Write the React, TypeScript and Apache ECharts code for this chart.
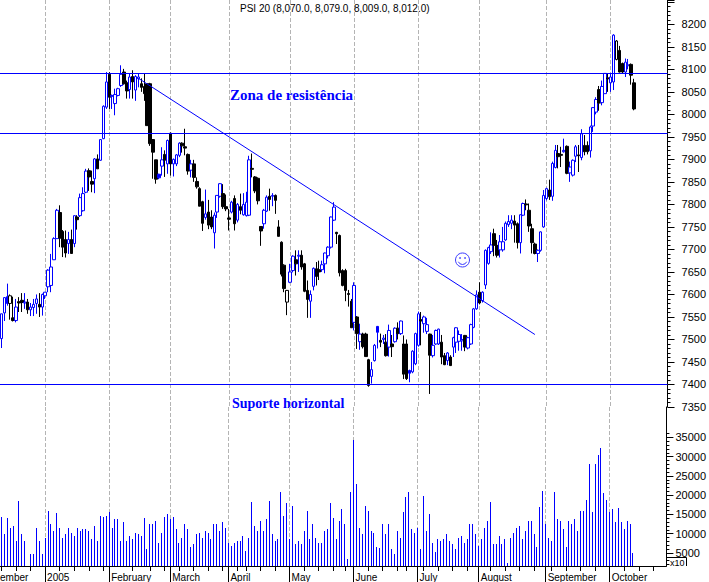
import React, { useEffect, useRef } from "react";
import * as echarts from "echarts";

const TITLE = "PSI 20 (8,070.0, 8,079.0, 8,009.0, 8,012.0)";
const SLOTS = 229;
const monthTicks = [15, 37, 58, 78, 99, 121, 143, 164, 187, 209];
const monthLabels: Record<number, string> = { 15: "2005", 37: "February", 58: "March", 78: "April", 99: "May", 121: "June", 143: "July", 164: "August", 187: "September", 209: "October" };
const weekTicks = [0,5,10,20,25,30,35,45,51,56,61,66,71,76,81,84,89,94,104,109,114,118,126,131,136,139,145,150,155,160,168,173,178,183,189,194,199,204,214,219,224];
const levels = [8090.75, 7957.5, 7400];
const trend = [[47, 8080], [183, 7511]];
const volTicks = [5000,10000,15000,20000,25000,30000,35000];
const volMinor = [2000,3000,4000,6000,7000,8000,9000,11000,12000,13000,14000,16000,17000,18000,19000,21000,22000,23000,24000,26000,27000,28000,29000,31000,32000,33000,34000,36000];
const solidBlue = [2, 54, 129, 140];
const hollowBlack = [3, 98, 211];

// open, close, low, high
const candles = [
[7502,7557,7481,7557],[7559,7593,7541,7594],[7595,7580,7575,7624],[7580,7597,7544,7600],[7548,7542,7540,7595],[7542,7572,7538,7590],[7584,7581,7561,7594],[7587,7582,7561,7603],[7581,7583,7568,7603],[7583,7566,7557,7590],
[7566,7572,7552,7581],[7571,7578,7552,7590],[7580,7590,7557,7600],[7578,7572,7550,7603],[7572,7600,7553,7602],[7597,7605,7590,7605],[7617,7654,7605,7656],[7620,7661,7605,7690],[7677,7724,7677,7727],[7724,7787,7724,7790],
[7782,7725,7705,7798],[7740,7705,7683,7743],[7722,7692,7682,7742],[7713,7722,7690,7739],[7722,7691,7691,7744],[7713,7775,7705,7775],[7772,7766,7744,7776],[7775,7815,7772,7824],[7786,7824,7784,7838],[7827,7874,7825,7879],
[7875,7861,7830,7880],[7851,7845,7827,7875],[7857,7901,7825,7903],[7901,7879,7879,7911],[7898,7944,7897,7945],[7946,8018,7945,8020],[8016,8072,8012,8094],[8089,8038,8012,8094],[8040,8042,8012,8044],[8024,8044,7998,8057],
[8042,8057,8040,8059],[8064,8089,8061,8109],[8094,8068,8066,8101],[8070,8052,8035,8075],[8055,8083,8035,8090],[8084,8072,8035,8098],[8054,8084,8030,8087],[8079,8083,8060,8090],[8068,8060,8050,8080],[8062,8046,8030,8091],
[8068,7975,7975,8068],[8068,7935,7930,8070],[7944,7916,7857,7945],[7899,7856,7846,7899],[7867,7859,7856,7868],[7885,7899,7864,7927],[7911,7898,7861,7920],[7890,7942,7868,7944],[7958,7890,7864,7960],[7890,7900,7862,7902],
[7890,7910,7885,7912],[7909,7936,7905,7938],[7936,7930,7915,7938],[7928,7925,7909,7968],[7911,7874,7866,7913],[7876,7890,7860,7899],[7890,7860,7850,7899],[7851,7839,7835,7860],[7835,7796,7796,7838],[7806,7758,7741,7808],
[7771,7779,7766,7833],[7783,7754,7745,7810],[7772,7750,7745,7787],[7737,7776,7702,7782],[7783,7820,7770,7820],[7818,7846,7815,7847],[7824,7795,7790,7845],[7795,7790,7785,7822],[7770,7767,7742,7790],[7783,7805,7780,7808],
[7813,7757,7742,7820],[7765,7800,7760,7803],[7795,7787,7778,7824],[7777,7800,7775,7825],[7775,7805,7773,7828],[7776,7899,7774,7908],[7880,7878,7860,7913],[7861,7830,7825,7863],[7858,7808,7800,7860],[7751,7741,7708,7751],
[7757,7787,7746,7790],[7785,7816,7783,7820],[7818,7811,7786,7835],[7818,7820,7796,7825],[7820,7809,7779,7822],[7750,7729,7729,7765],[7716,7645,7640,7718],[7665,7613,7605,7667],[7583,7609,7554,7610],[7627,7650,7625,7668],
[7653,7685,7649,7687],[7677,7668,7642,7698],[7685,7687,7650,7698],[7687,7661,7655,7698],[7668,7607,7605,7670],[7609,7589,7548,7631],[7585,7600,7548,7609],[7618,7658,7609,7660],[7657,7640,7620,7672],[7655,7650,7632,7675],
[7655,7666,7650,7675],[7668,7692,7647,7693],[7686,7705,7680,7707],[7705,7772,7702,7773],[7765,7794,7763,7805],[7738,7735,7712,7739],[7731,7648,7640,7733],[7653,7620,7618,7656],[7653,7609,7585,7657],[7602,7600,7573,7610],
[7585,7526,7526,7590],[7538,7620,7520,7627],[7550,7513,7479,7552],[7495,7512,7477,7535],[7512,7484,7480,7515],[7512,7462,7462,7515],[7455,7398,7395,7457],[7418,7433,7402,7450],[7453,7487,7451,7490],[7529,7516,7480,7530],
[7498,7494,7483,7513],[7500,7503,7490,7510],[7494,7464,7462,7512],[7483,7520,7462,7533],[7490,7484,7461,7510],[7495,7525,7493,7527],[7525,7513,7500,7538],[7513,7541,7510,7542],[7490,7423,7412,7509],[7490,7413,7410,7500],
[7431,7425,7405,7433],[7428,7474,7425,7476],[7446,7513,7443,7515],[7487,7557,7484,7562],[7544,7541,7487,7561],[7535,7550,7515,7553],[7518,7533,7512,7548],[7512,7465,7379,7513],[7464,7487,7460,7510],[7490,7520,7488,7522],
[7490,7523,7488,7524],[7494,7461,7445,7510],[7464,7444,7443,7470],[7453,7470,7443,7472],[7461,7442,7441,7465],[7483,7504,7461,7506],[7494,7526,7470,7527],[7496,7511,7475,7520],[7497,7500,7475,7512],[7509,7483,7474,7510],
[7481,7504,7478,7506],[7490,7533,7488,7535],[7527,7568,7525,7570],[7568,7599,7566,7609],[7605,7581,7578,7627],[7586,7605,7582,7607],[7621,7698,7612,7700],[7669,7704,7666,7706],[7695,7710,7690,7738],[7735,7709,7685,7746],
[7709,7687,7682,7721],[7699,7717,7682,7732],[7699,7717,7695,7750],[7721,7758,7719,7762],[7755,7762,7750,7776],[7758,7765,7745,7776],[7763,7754,7715,7776],[7757,7715,7702,7760],[7715,7777,7691,7778],[7776,7802,7774,7804],
[7801,7799,7787,7811],[7787,7752,7739,7802],[7746,7715,7691,7757],[7712,7691,7689,7715],[7691,7698,7672,7700],[7698,7739,7695,7740],[7750,7820,7748,7832],[7813,7835,7809,7837],[7832,7817,7810,7855],[7818,7891,7808,7895],
[7882,7920,7880,7932],[7913,7906,7880,7932],[7911,7909,7883,7928],[7917,7920,7915,7946],[7929,7869,7867,7931],[7870,7883,7850,7895],[7865,7898,7862,7900],[7907,7928,7894,7932],[7910,7908,7872,7932],[7904,7957,7898,7967],
[7931,7917,7909,7954],[7931,7917,7911,7940],[7919,7972,7904,7975],[7974,8015,7961,8016],[8005,8033,8000,8038],[8055,8025,8008,8063],[8026,8062,8020,8075],[8046,8091,8046,8091],[8081,8079,8050,8091],[8070,8083,8050,8092],
[8072,8176,8054,8178],[8122,8163,8120,8165],[8142,8094,8093,8152],[8113,8094,8090,8115],[8094,8116,8083,8124],[8108,8110,8100,8123],[8111,8087,8066,8113],[8070,8012,8009,8079],
];

const volumes = [
14400,9800,14000,11350,12100,8000,18400,9800,8200,1700,
4600,4800,11350,8000,4600,9000,15800,12400,10800,15300,
11350,9000,9800,11350,10300,9300,11600,10800,11100,11100,
10800,8700,12100,8000,14500,14200,14500,15500,11600,13700,
13700,8200,12900,8000,9300,8700,10300,9800,9300,14000,
6100,12600,12600,13400,7700,10300,14200,15000,13700,14200,
11100,7700,9000,12400,11100,6650,7200,10000,10300,9000,
10600,10300,8500,12400,12400,10600,12900,11350,7700,6900,
7700,8000,8000,9500,5600,9000,18100,12100,10600,13400,
10800,13700,18400,10000,8000,8700,20750,14700,17900,8700,
17100,7200,8000,7400,10800,15800,8500,12600,9000,7700,
7700,10600,11100,17900,14000,8700,13200,16300,12400,3500,
20750,34300,22800,11600,10000,17300,15800,10600,10300,6650,
6400,12400,9800,12400,6100,4800,10800,9000,15500,19400,
20750,11100,10300,11350,6100,19700,10600,15000,7700,5350,
8700,8200,8700,10000,8200,7400,6100,9000,9300,7700,
8700,12600,12600,10000,6900,8700,11600,13400,18100,7400,
7400,9300,7400,8500,2500,9000,10300,11600,12100,8500,
10600,13200,13400,10000,6650,16800,21000,12600,9000,8200,
20750,13700,13400,11100,6650,13200,12600,13700,10800,16000,
16000,18650,28000,15500,28000,30400,32200,20500,18650,15500,
16300,12900,16600,12900,11100,13200,12400,5100,
];

const BLUE = "#0000ff";
const FONT = "'Liberation Sans', Arial, sans-serif";
const VOL_MIN = 1600;
const categories = Array.from({ length: SLOTS }, (_, i) => String(i));

export default function App() {
  const ref = useRef<HTMLDivElement>(null);
  useEffect(() => {
    const chart = echarts.init(ref.current!, null, { renderer: "svg" });
    const monthSplit = {
      show: true,
      alignWithLabel: true,
      interval: (i: number) => monthTicks.includes(i),
      lineStyle: { color: "#b4b4b4", type: [4, 2] as any, width: 1 },
    };
    chart.setOption({
      animation: false,
      backgroundColor: "#ffffff",
      title: {
        text: TITLE, left: 240, top: 3, padding: 0,
        textStyle: { fontFamily: FONT, fontSize: 10, fontWeight: "normal", color: "#000" },
      },
      grid: [
        { left: 0, top: 0, width: 669, height: 407 },
        { left: 0, top: 407, width: 669, height: 159 },
      ],
      xAxis: [
        { type: "category", gridIndex: 0, data: categories, axisLine: { show: false }, axisTick: { show: false }, axisLabel: { show: false }, splitLine: monthSplit },
        {
          type: "category", gridIndex: 1, position: "bottom", data: categories,
          axisLine: { show: true, lineStyle: { color: "#000" } },
          axisTick: { show: true, alignWithLabel: true, length: 16, interval: (i: number) => monthTicks.includes(i), lineStyle: { color: "#000" } },
          axisLabel: {
            show: true, align: "left", margin: 6, color: "#000", fontFamily: FONT, fontSize: 10, padding: [0, 0, 0, 2],
            interval: (i: number) => monthLabels[i] !== undefined,
            formatter: (v: string) => monthLabels[Number(v)] ?? "",
          },
          splitLine: monthSplit,
        },
        {
          type: "category", gridIndex: 1, position: "bottom", data: categories,
          axisLine: { show: false },
          axisTick: { show: true, alignWithLabel: true, length: 5, interval: (i: number) => weekTicks.includes(i), lineStyle: { color: "#000" } },
          axisLabel: { show: false }, splitLine: { show: false },
        },
      ],
      yAxis: [
        {
          type: "value", gridIndex: 0, position: "right", min: 7350, max: 8254, interval: 50,
          splitLine: { show: false },
          axisLine: { show: true, lineStyle: { color: "#000" } },
          axisTick: { show: true, length: 7, lineStyle: { color: "#000" } },
          minorTick: { show: true, splitNumber: 5, length: 3, lineStyle: { color: "#000" } },
          axisLabel: {
            color: "#000", fontFamily: FONT, fontSize: 11, margin: 14, showMaxLabel: false,
            formatter: (v: number) => (v > 8200 ? "" : String(v)),
          },
        },
        {
          type: "value", gridIndex: 1, position: "right", min: VOL_MIN, max: 42900,
          splitLine: { show: false },
          axisLine: { show: true, lineStyle: { color: "#000" } },
          axisTick: { show: true, length: 7, customValues: volTicks, lineStyle: { color: "#000" } },
          axisLabel: { color: "#000", fontFamily: FONT, fontSize: 11, margin: 9, customValues: volTicks, formatter: (v: number) => String(v) },
        },
        {
          type: "value", gridIndex: 1, position: "right", min: VOL_MIN, max: 42900,
          splitLine: { show: false },
          axisLine: { show: false },
          axisTick: { show: true, length: 3, customValues: volMinor, lineStyle: { color: "#000" } },
          axisLabel: { show: false },
        },
      ],
      series: [
        {
          type: "candlestick", xAxisIndex: 0, yAxisIndex: 0, barWidth: 3,
          itemStyle: { color: "#ffffff", color0: "#000000", borderColor: BLUE, borderColor0: "#000000", borderWidth: 1 },
          data: candles.map((row, i) => {
            if (solidBlue.includes(i)) return { value: row, itemStyle: { color: BLUE, color0: BLUE, borderColor: BLUE, borderColor0: BLUE } };
            if (hollowBlack.includes(i)) return { value: row, itemStyle: { color: "#ffffff", color0: "#ffffff", borderColor: "#000", borderColor0: "#000" } };
            return { value: row };
          }),
          markLine: {
            silent: true, symbol: "none", label: { show: false }, animation: false,
            lineStyle: { color: BLUE, width: 1, type: "solid" },
            data: [
              ...levels.map((v) => ({ yAxis: v })),
              [{ coord: [String(trend[0][0]), trend[0][1]] }, { coord: [String(trend[1][0]), trend[1][1]] }],
            ],
          },
        },
        {
          type: "custom", xAxisIndex: 1, yAxisIndex: 1, silent: true,
          encode: { x: 0, y: 1 },
          data: volumes.map((v, i) => [String(i), v]),
          renderItem: (_: any, api: any) => {
            const top = api.coord([api.value(0), api.value(1)]);
            const base = api.coord([api.value(0), VOL_MIN]);
            return {
              type: "rect",
              shape: { x: Math.floor(top[0]), y: Math.round(top[1]), width: 1, height: Math.round(base[1]) - Math.round(top[1]) },
              style: { fill: BLUE },
            };
          },
        },
      ],
      graphic: [
        { type: "text", x: 230, y: 87, style: { text: "Zona de resistência", fill: BLUE, font: "bold 15px 'Liberation Serif', serif" } },
        { type: "text", x: 232, y: 396, style: { text: "Suporte horizontal", fill: BLUE, font: "bold 14px 'Liberation Serif', serif" } },
        { type: "text", x: 0, y: 572, style: { text: "ember", fill: "#000", font: "10px 'Liberation Sans', sans-serif" } },
        {
          type: "group", x: 462.5, y: 260,
          children: [
            { type: "circle", shape: { cx: 0, cy: 0, r: 7 }, style: { fill: "none", stroke: "#3a3aff", lineWidth: 1 } },
            { type: "circle", shape: { cx: -2.5, cy: -2, r: 0.8 }, style: { fill: "#3a3aff" } },
            { type: "circle", shape: { cx: 2.5, cy: -2, r: 0.8 }, style: { fill: "#3a3aff" } },
            { type: "arc", shape: { cx: 0, cy: 0, r: 4.5, startAngle: 0.4, endAngle: Math.PI - 0.4 }, style: { fill: "none", stroke: "#3a3aff", lineWidth: 1 } },
          ],
        },
        { type: "polyline", shape: { points: [[669, 557.5], [686.5, 557.5], [686.5, 566]] }, style: { fill: "none", stroke: "#000", lineWidth: 1 } },
        { type: "text", x: 670, y: 558, style: { text: "x10", fill: "#000", font: "9px 'Liberation Sans', sans-serif" } },
      ],
    });
    return () => chart.dispose();
  }, []);
  return <div ref={ref} style={{ position: "absolute", left: 0, top: 0, width: 709, height: 582 }} />;
}
